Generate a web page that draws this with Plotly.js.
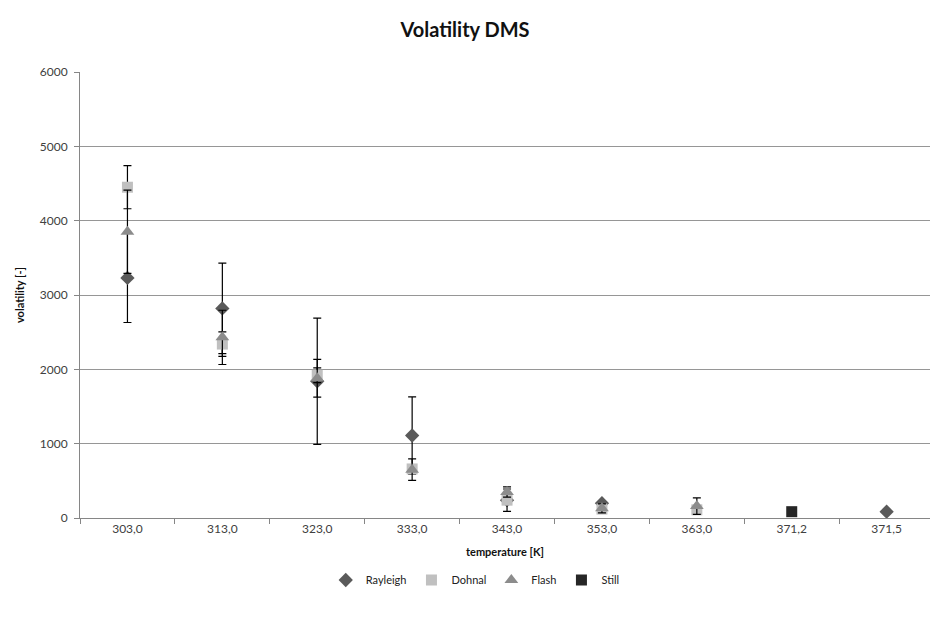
<!DOCTYPE html>
<html>
<head>
<meta charset="utf-8">
<script src="https://cdn.plot.ly/plotly-3.0.1.min.js"></script>
<style>html,body{margin:0;padding:0;background:#fff;}#chart{width:930px;height:617px;}</style>
</head>
<body>
<div id="chart"></div>
<script>
const categories = ['303,0','313,0','323,0','333,0','343,0','353,0','363,0','371,2','371,5'];
const rayleigh    = [3230, 2820, 1840, 1110, 240, 200, null, null, 85];
const rayleighErr = [600, 610, 850, 520, 0, 0, null, null, 0];
const dohnal      = [4450, 2340, 1920, 660, 240, 120, 110, null, null];
const dohnalErr   = [290, 165, 100, 60, 150, 40, 40, null, null];
const flash       = [3850, 2430, 1880, 650, 350, 130, 160, null, null];
const flashErr    = [560, 365, 255, 145, 70, 60, 110, null, null];
const still       = [null, null, null, null, null, null, null, 85, null];
const yTicks = [0, 1000, 2000, 3000, 4000, 5000, 6000];

const font = 'Lato, "Open Sans", sans-serif';
const errStyle = (arr) => ({type: 'data', array: arr, visible: true, color: '#000', thickness: 1.2, width: 4});

const traces = [
  {name: 'Rayleigh', x: categories, y: rayleigh, type: 'scatter', mode: 'markers',
   marker: {symbol: 'diamond', size: 11, color: '#5a5a5a'}, error_y: errStyle(rayleighErr)},
  {name: 'Dohnal', x: categories, y: dohnal, type: 'scatter', mode: 'markers',
   marker: {symbol: 'square', size: 11, color: '#c0c0c0'}, error_y: errStyle(dohnalErr)},
  {name: 'Flash', x: categories, y: flash, type: 'scatter', mode: 'markers',
   marker: {symbol: 'triangle-up', size: 12, color: '#8c8c8c'}, error_y: errStyle(flashErr)},
  {name: 'Still', x: categories, y: still, type: 'scatter', mode: 'markers',
   marker: {symbol: 'square', size: 11, color: '#262626'}}
];

const layout = {
  width: 930, height: 617,
  margin: {l: 80, r: 0, t: 72, b: 99},
  paper_bgcolor: '#fff', plot_bgcolor: '#fff',
  font: {family: font, size: 12, color: '#404040'},
  title: {text: '<b>Volatility DMS</b>', font: {family: font, size: 20, color: '#111'}, x: 0.5, xanchor: 'center', y: 0.952, yanchor: 'middle'},
  showlegend: true,
  legend: {orientation: 'h', x: 0.465, xanchor: 'center', y: -0.139, yanchor: 'middle', font: {family: font, size: 11, color: '#222'}, itemwidth: 30, traceorder: 'normal'},
  xaxis: {
    type: 'category', categoryorder: 'array', categoryarray: categories,
    range: [-0.5, 8.457],
    showgrid: false, zeroline: false,
    showline: true, linecolor: '#868686', linewidth: 1,
    ticks: 'outside', tickson: 'boundaries', ticklen: 5, tickcolor: '#868686',
    tickfont: {family: font, size: 12, color: '#404040'},
    title: {text: '<b>temperature [K]</b>', font: {family: font, size: 11, color: '#111'}, standoff: 12}
  },
  yaxis: {
    range: [0, 6000], tickvals: yTicks, ticktext: yTicks.map(String),
    showgrid: true, gridcolor: '#969696', gridwidth: 1,
    zeroline: false, showline: true, linecolor: '#868686', linewidth: 1,
    ticks: 'outside', ticklen: 5, tickcolor: '#868686',
    ticklabelstandoff: 4,
    tickfont: {family: font, size: 12, color: '#404040'},
    title: {text: '<b>volatility [-]</b>', font: {family: font, size: 11, color: '#111'}, standoff: 12}
  }
};

Plotly.newPlot('chart', traces, layout, {displayModeBar: false, staticPlot: true});
</script>
</body>
</html>
